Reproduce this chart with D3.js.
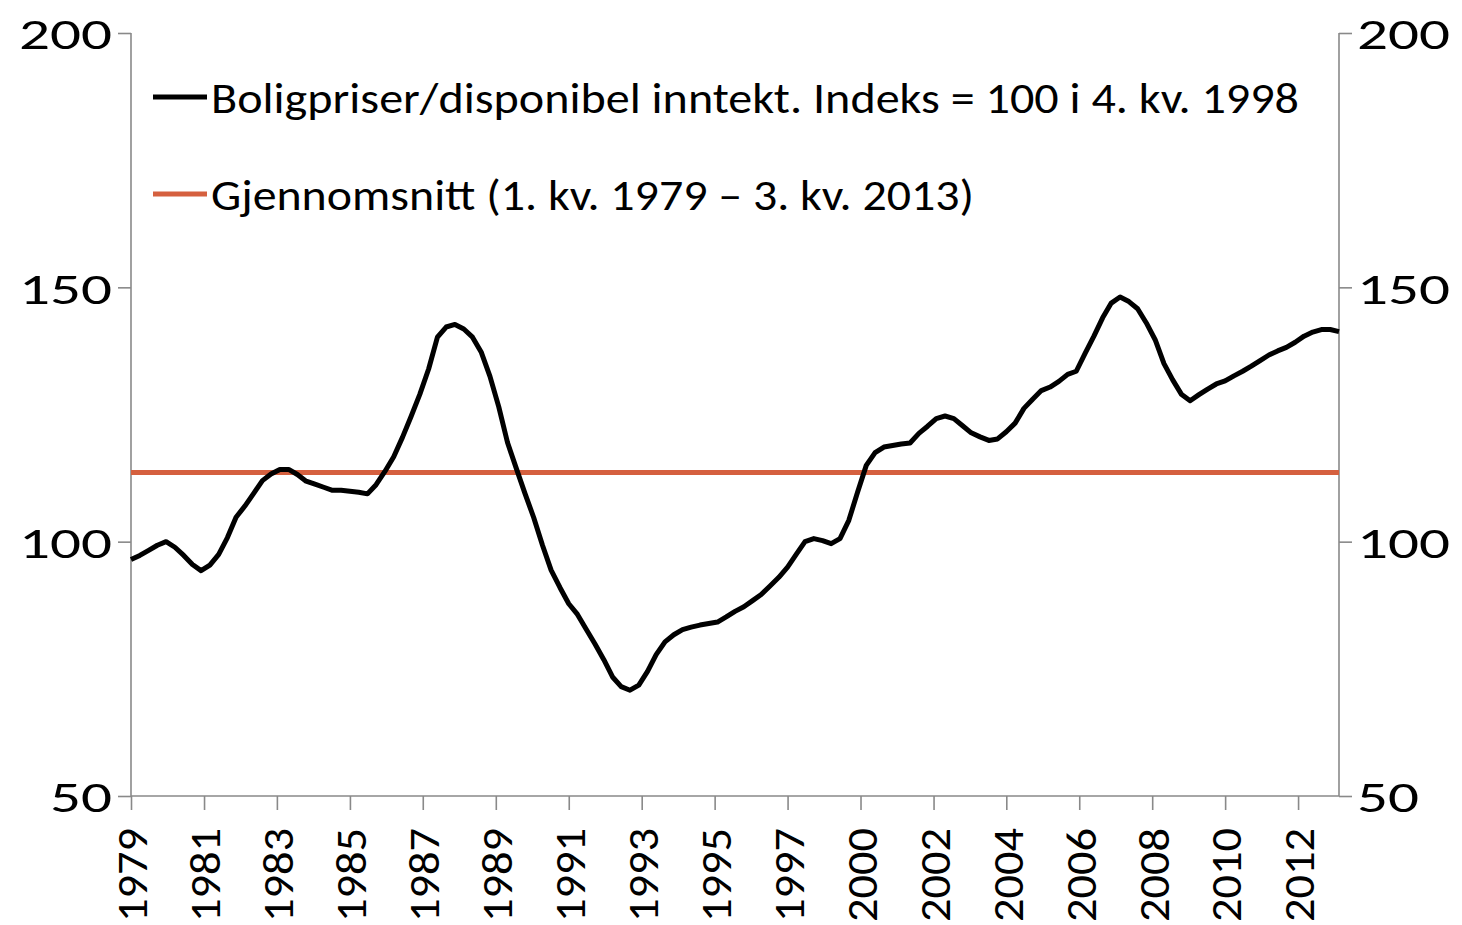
<!DOCTYPE html>
<html>
<head>
<meta charset="utf-8">
<script src="https://d3js.org/d3.v7.min.js"></script>
<style>
  body { margin: 0px; background: #ffffff; overflow: hidden; }
  .lbl { font-family: Carlito, Lato, "Open Sans", sans-serif; font-size: 44px; fill: #000; }
  .axis path, .axis line { stroke: #898989; stroke-width: 1.6px; }
</style>
</head>
<body>
<svg id="chart" width="1462" height="925"></svg>
<script>
// quarterly values, 1. kv. 1979 - 3. kv. 2013
var startDate = new Date(1979, 2, 1);
var values = [
  96.5, 97.3, 98.3, 99.3, 100.0, 98.9, 97.3, 95.5, 94.3, 95.4,
  97.5, 100.8, 104.8, 107.0, 109.5, 112.0, 113.3, 114.2, 114.2, 113.2,
  111.9, 111.3, 110.7, 110.1, 110.1, 109.9, 109.7, 109.4, 111.2, 113.8,
  116.7, 120.5, 124.6, 129.0, 134.0, 140.2, 142.2, 142.7, 141.8, 140.2,
  137.3, 132.5, 126.5, 119.5, 114.5, 109.5, 104.7, 99.3, 94.4, 91.0,
  87.8, 85.7, 82.8, 79.9, 76.8, 73.4, 71.5, 70.8, 71.8, 74.5,
  77.8, 80.3, 81.7, 82.7, 83.2, 83.6, 83.9, 84.2, 85.2, 86.3,
  87.2, 88.4, 89.6, 91.3, 93.0, 95.0, 97.5, 100.0, 100.6, 100.2,
  99.6, 100.6, 104.2, 109.7, 115.0, 117.5, 118.6, 118.9, 119.2, 119.4,
  121.3, 122.7, 124.2, 124.7, 124.2, 122.8, 121.4, 120.6, 119.9, 120.2,
  121.6, 123.3, 126.2, 128.0, 129.7, 130.4, 131.5, 132.9, 133.5, 137.0,
  140.4, 144.0, 146.9, 148.1, 147.2, 145.8, 143.0, 139.7, 135.0, 131.8,
  129.0, 127.7, 128.9, 130.0, 131.0, 131.6, 132.6, 133.5, 134.5, 135.6,
  136.7, 137.5, 138.2, 139.2, 140.4, 141.2, 141.7, 141.7, 141.3
];
var average = 113.6;
var yTicks = [50, 100, 150, 200];
var tickStepMonths = 25;
var tickCount = 17;
var legendNames = [
  "Boligpriser/disponibel inntekt. Indeks = 100 i 4. kv. 1998",
  "Gjennomsnitt (1. kv. 1979 \u2013 3. kv. 2013)"
];
var legendColors = ["#000000", "#D5603F"];
var legendWidths = [1088, 763];   // text widths as in the original (Calibri)

var svg = d3.select("#chart"),
    margin = {left: 131, right: 123, top: 33, bottom: 129},
    width = +svg.attr("width") - margin.left - margin.right,
    height = +svg.attr("height") - margin.top - margin.bottom,
    g = svg.append("g").attr("transform", "translate(" + margin.left + "," + margin.top + ")");

var data = values.map(function(v, i) {
  return {date: d3.timeMonth.offset(startDate, 3 * i), value: v};
});

var x = d3.scaleTime()
    .domain([data[0].date, data[data.length - 1].date])
    .range([0, width]);

var y = d3.scaleLinear()
    .domain([50, 200])
    .range([height, 0]);

var xTicks = d3.range(tickCount).map(function(k) { return d3.timeMonth.offset(startDate, tickStepMonths * k); });

// axes
var yLeft = g.append("g").attr("class", "axis")
    .call(d3.axisLeft(y).tickValues(yTicks).tickSize(13).tickPadding(6));
var yRight = g.append("g").attr("class", "axis")
    .attr("transform", "translate(" + width + ",0)")
    .call(d3.axisRight(y).tickValues(yTicks).tickSize(13).tickPadding(5));
[yLeft, yRight].forEach(function(a) {
  a.select(".domain").attr("d", "M0,0V" + height);
  a.selectAll("text")
      .attr("class", "lbl")
      .attr("dy", "0.36em")
      .attr("lengthAdjust", "spacingAndGlyphs")
      .attr("textLength", function(d) { return String(d).length * 31; });
});

var xAxis = g.append("g").attr("class", "axis")
    .attr("transform", "translate(0," + height + ")")
    .call(d3.axisBottom(x).tickValues(xTicks).tickFormat(d3.timeFormat("%Y")).tickSize(14));
xAxis.select(".domain").attr("d", "M0,0H" + width);
xAxis.selectAll("text")
    .attr("class", "lbl")
    .attr("transform", "rotate(-90)")
    .attr("text-anchor", "end")
    .attr("x", -32)
    .attr("y", 0)
    .attr("dy", "0.36em")
    .attr("lengthAdjust", "spacingAndGlyphs")
    .attr("textLength", 94);

// average line
g.append("line")
    .attr("x1", 0).attr("x2", width)
    .attr("y1", y(average)).attr("y2", y(average))
    .attr("stroke", legendColors[1])
    .attr("stroke-width", 5);

// main series
var line = d3.line()
    .x(function(d) { return x(d.date); })
    .y(function(d) { return y(d.value); });

g.append("path")
    .datum(data)
    .attr("fill", "none")
    .attr("stroke", legendColors[0])
    .attr("stroke-width", 5)
    .attr("stroke-linejoin", "round")
    .attr("d", line);

// legend
var legend = svg.append("g");
legendNames.forEach(function(name, i) {
  var ly = 97 + i * 97;
  legend.append("line")
      .attr("x1", 153).attr("x2", 207)
      .attr("y1", ly).attr("y2", ly)
      .attr("stroke", legendColors[i])
      .attr("stroke-width", 5);
  legend.append("text")
      .attr("class", "lbl")
      .attr("x", 211)
      .attr("y", ly)
      .attr("dy", "0.36em")
      .attr("lengthAdjust", "spacingAndGlyphs")
      .attr("textLength", legendWidths[i])
      .text(name);
});
</script>
</body>
</html>
